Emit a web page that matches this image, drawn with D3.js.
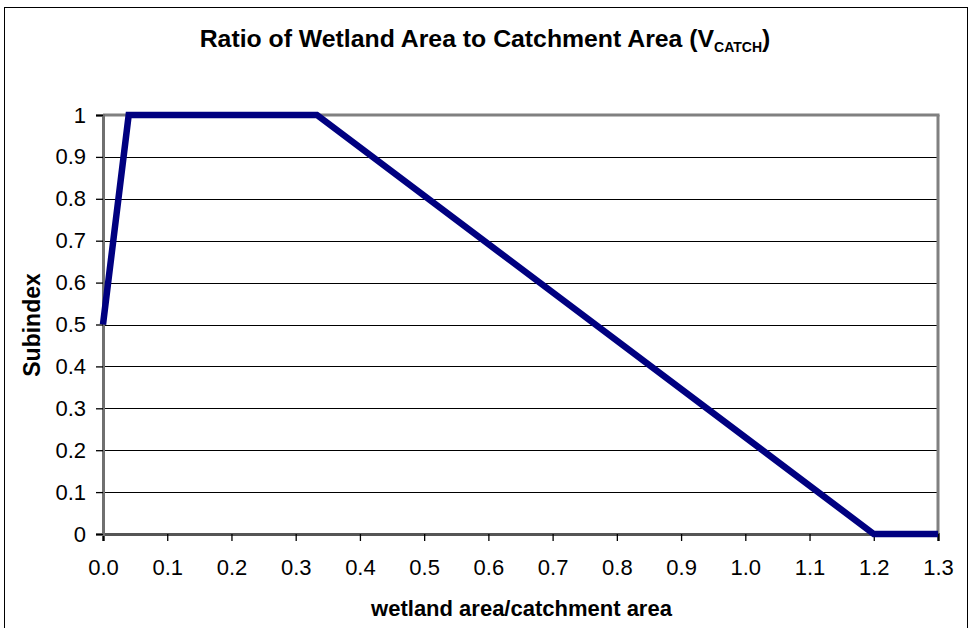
<!DOCTYPE html>
<html><head><meta charset="utf-8">
<script src="https://cdn.jsdelivr.net/npm/d3@7"></script>
<style>body{margin:0;background:#fff;font-family:"Liberation Sans",Arial,sans-serif;}</style>
</head><body>
<svg id="c" width="969" height="628"></svg>
<script>
const xValues = [0, 0.04, 0.333, 1.2, 1.3];
const yValues = [0.5, 1, 1, 0, 0];
const xTicks = [0,0.1,0.2,0.3,0.4,0.5,0.6,0.7,0.8,0.9,1.0,1.1,1.2,1.3];
const yTicks = [0,0.1,0.2,0.3,0.4,0.5,0.6,0.7,0.8,0.9,1];
const titleMain = "Ratio of Wetland Area to Catchment Area (V";
const titleSub = "CATCH";
const xLabel = "wetland area/catchment area";
const yLabel = "Subindex";

const FONT = "Liberation Sans, Arial, sans-serif";
const svg = d3.select("#c");
const L=103, R=938, T=115, B=534;
const x = d3.scaleLinear().domain([0,1.3]).range([L,R]);
const y = d3.scaleLinear().domain([0,1]).range([B,T]);

// outer border
svg.append("rect").attr("x",4.5).attr("y",7.5).attr("width",963).attr("height",630)
  .attr("fill","#fff").attr("stroke","#000").attr("stroke-width",1);

// gridlines
svg.append("g").selectAll("line").data(yTicks.filter(d=>d>0&&d<1)).join("line")
  .attr("x1",L).attr("x2",R).attr("y1",d=>Math.round(y(d))+0.5).attr("y2",d=>Math.round(y(d))+0.5)
  .attr("stroke","#000").attr("stroke-width",1);

// plot border (top/right grey)
svg.append("line").attr("x1",L).attr("x2",R+1.5).attr("y1",T).attr("y2",T).attr("stroke","#808080").attr("stroke-width",3);
svg.append("line").attr("x1",R).attr("x2",R).attr("y1",T).attr("y2",B).attr("stroke","#808080").attr("stroke-width",3);

// axes
const xAxis = d3.axisBottom(x).tickValues(xTicks).tickFormat(d3.format(".1f")).tickSizeOuter(0).tickSize(7).tickPadding(18);
const gx = svg.append("g").attr("transform",`translate(0,${B})`).call(xAxis);
const yAxis = d3.axisLeft(y).tickValues(yTicks).tickFormat(d=>d===0||d===1?String(d):d3.format(".1f")(d)).tickSizeOuter(0).tickSize(7).tickPadding(10);
const gy = svg.append("g").attr("transform",`translate(${L},0)`).call(yAxis);
gx.select(".domain").attr("stroke","#555").attr("stroke-width",3);
gy.select(".domain").attr("stroke","#707070").attr("stroke-width",3);
[gx,gy].forEach(g=>{
  g.selectAll(".tick line").attr("stroke","#000").attr("stroke-width",1.3);
  g.selectAll("text").attr("font-family",FONT).attr("font-size",22).attr("fill","#000");
});

// line
const line = d3.line().x((d,i)=>x(xValues[i])).y((d,i)=>y(yValues[i]));
svg.append("path").datum(xValues).attr("d",line).attr("fill","none")
  .attr("stroke","#000080").attr("stroke-width",6.5).attr("stroke-linejoin","miter");

// title
const t = svg.append("text").attr("x",485).attr("y",47).attr("text-anchor","middle")
  .attr("font-family",FONT).attr("font-weight","bold").attr("font-size",24.8);
t.append("tspan").text(titleMain);
t.append("tspan").text(titleSub).attr("font-size",14).attr("dy",5);
t.append("tspan").text(")").attr("dy",-5);

svg.append("text").attr("x",(L+R)/2+1).attr("y",616).attr("text-anchor","middle")
  .attr("font-family",FONT).attr("font-weight","bold").attr("font-size",22).text(xLabel);
svg.append("text").attr("transform","translate(40,325) rotate(-90)").attr("text-anchor","middle")
  .attr("font-family",FONT).attr("font-weight","bold").attr("font-size",23).text(yLabel);
</script>
</body></html>
